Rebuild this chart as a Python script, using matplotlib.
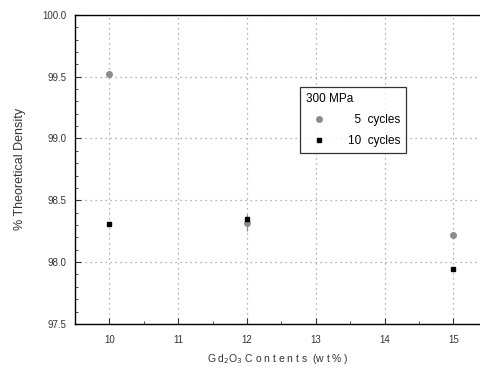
import matplotlib
matplotlib.use('Agg')
from matplotlib import pyplot as plt
from matplotlib.lines import Line2D
from matplotlib.ticker import MultipleLocator, FormatStrFormatter

plt.rcParams['font.family'] = ['Liberation Sans', 'DejaVu Sans']

gd2o3 = [10, 12, 15]
density_5cyc = [99.52, 98.32, 98.22]
density_10cyc = [98.31, 98.35, 97.94]
err_5cyc = [0.0, 0.07, 0.0]

fig = plt.figure(figsize=(4.81, 3.71), dpi=100)
ax = fig.add_axes([0.156, 0.127, 0.844, 0.833])

ax.errorbar(gd2o3, density_5cyc, yerr=err_5cyc, fmt='o', color='#8c8c8c',
            ms=4, elinewidth=0.8, capsize=0, zorder=3)
ax.plot(gd2o3, density_10cyc, 's', color='black', ms=3.5, zorder=4)

ax.set_xlim(9.5, 15.4)
ax.set_ylim(97.5, 100.0)
ax.xaxis.set_major_locator(MultipleLocator(1))
ax.xaxis.set_minor_locator(MultipleLocator(0.5))
ax.yaxis.set_major_locator(MultipleLocator(0.5))
ax.yaxis.set_minor_locator(MultipleLocator(0.1))
ax.yaxis.set_major_formatter(FormatStrFormatter('%.1f'))
ax.tick_params(which='both', direction='in', labelsize=7, colors='#333333')
ax.tick_params(which='major', length=4)
ax.tick_params(which='minor', length=2)
ax.tick_params(axis='x', pad=8)
ax.tick_params(axis='y', pad=6)
ax.grid(True, which='major', linestyle=(0, (1, 3)), color='#999999', linewidth=0.9)
ax.spines['right'].set_visible(False)
for s in ['left', 'bottom', 'top']:
    ax.spines[s].set_linewidth(1.0)

ax.set_xlabel('G d$_2$O$_3$ C o n t e n t s  (w t % )', fontsize=7.5, color='#333333', labelpad=5)
ax.set_ylabel('% Theoretical Density', fontsize=9, color='#333333', labelpad=12)

handles = [Line2D([], [], marker='o', ls='', color='#8c8c8c', ms=4),
           Line2D([], [], marker='s', ls='', color='black', ms=3.5)]
labels = ['  5  cycles', '10  cycles']
leg = ax.legend(handles, labels,
                title='300 MPa', loc='upper left', bbox_to_anchor=(0.555, 0.765),
                fontsize=8.5, title_fontsize=8.5, frameon=True, fancybox=False,
                edgecolor='black', handletextpad=1.3, handlelength=2.2,
                borderpad=0.5, labelspacing=0.75, borderaxespad=0)
leg._legend_box.align = 'left'
leg.get_frame().set_linewidth(0.9)

fig.savefig('out.png', dpi=100)
